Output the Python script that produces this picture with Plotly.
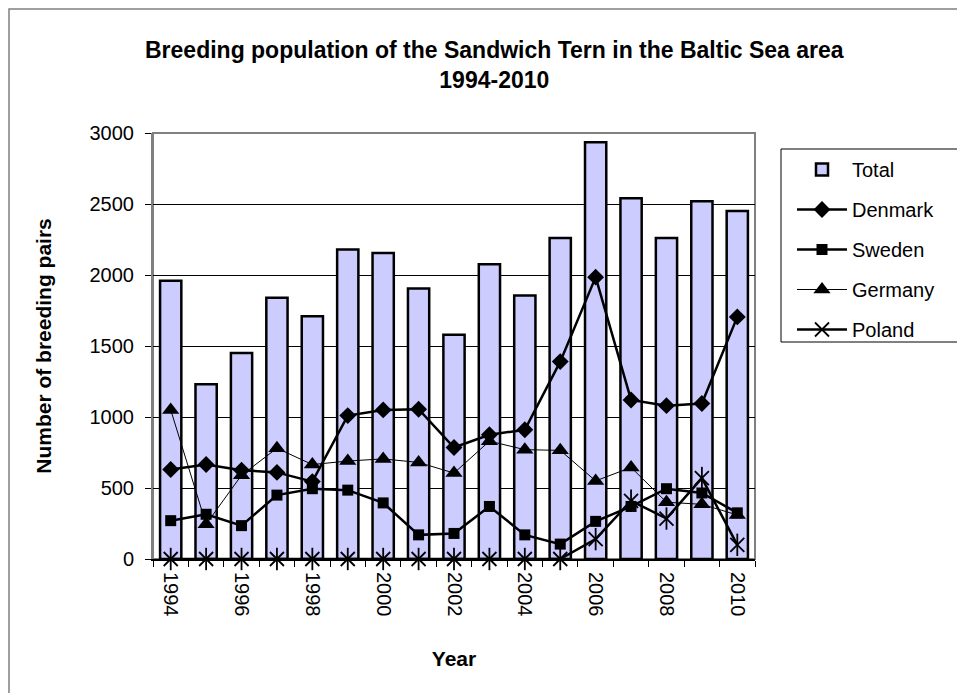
import plotly.graph_objects as go

years = [1994, 1995, 1996, 1997, 1998, 1999, 2000, 2001, 2002,
         2003, 2004, 2005, 2006, 2007, 2008, 2009, 2010]
total = [1960, 1230, 1450, 1840, 1710, 2180, 2155, 1905, 1580,
         2075, 1855, 2260, 2935, 2540, 2260, 2520, 2450]
denmark = [630, 665, 625, 610, 545, 1010, 1050, 1055, 785,
           875, 910, 1390, 1985, 1120, 1080, 1095, 1705]
sweden = [270, 315, 235, 450, 495, 485, 395, 170, 180,
          370, 170, 105, 265, 370, 495, 465, 325]
germany = [1050, 245, 590, 780, 665, 690, 705, 680, 605,
           830, 770, 765, 550, 645, 400, 385, 310]
poland = [0, 0, 0, 0, 0, 0, 0, 0, 0,
          0, 0, 0, 140, 410, 285, 570, 100]
tick_years = [1994, 1996, 1998, 2000, 2002, 2004, 2006, 2008, 2010]
y_ticks = [0, 500, 1000, 1500, 2000, 2500, 3000]

# page body has an 8px margin; work in screen pixels and shift
OFF = 8
W, H = 965 - OFF, 693 - OFF
PL, PR, PT, PB = 153, 755, 133, 559  # plot area in screen pixels
L, T = PL - OFF, PT - OFF
R, B = (965 - PR), (693 - PB)
PW, PH = PR - PL, PB - PT


def px_x(p):
    return (p - PL) / PW


def px_y(p):
    return (PB - p) / PH


FONT = "Liberation Sans, Arial, sans-serif"

fig = go.Figure()
fig.add_trace(go.Bar(
    x=years, y=total, name="Total", width=0.6,
    marker=dict(color="#CCCCFF", line=dict(color="black", width=2.5)),
    legendgroup="a"))
fig.add_trace(go.Scatter(
    x=years, y=denmark, name="Denmark", mode="lines+markers",
    line=dict(color="black", width=2.5),
    marker=dict(symbol="diamond", size=13, color="black"),
    legendgroup="b"))
fig.add_trace(go.Scatter(
    x=years, y=sweden, name="Sweden", mode="lines+markers",
    line=dict(color="black", width=2.5),
    marker=dict(symbol="square", size=11, color="black"),
    legendgroup="c"))
fig.add_trace(go.Scatter(
    x=years, y=germany, name="Germany", mode="lines+markers",
    line=dict(color="black", width=1),
    marker=dict(symbol="triangle-up", size=15, color="black"),
    legendgroup="d"))
fig.add_trace(go.Scatter(
    x=years, y=poland, name="Poland", mode="lines+markers",
    line=dict(color="black", width=2.5),
    marker=dict(symbol="x-thin-open", size=14, color="black",
                line=dict(color="black", width=1.8)),
    legendgroup="e", cliponaxis=False))
fig.add_trace(go.Scatter(
    x=years, y=poland, name="Poland", mode="markers", showlegend=False,
    marker=dict(symbol="line-ns-open", size=16, color="black",
                line=dict(color="black", width=1.8)),
    legendgroup="e", cliponaxis=False, hoverinfo="skip"))

shapes = [
    # outer chart border (cut off at right/bottom)
    dict(type="rect", xref="paper", yref="paper",
         x0=px_x(9), x1=px_x(1100), y0=px_y(9), y1=px_y(900),
         line=dict(color="#808080", width=1.5), layer="below"),
    # plot area border
    dict(type="rect", xref="paper", yref="paper",
         x0=0, x1=1, y0=0, y1=1,
         line=dict(color="#808080", width=2), layer="below"),
    # legend box
    dict(type="rect", xref="paper", yref="paper",
         x0=px_x(781), x1=px_x(1100), y0=px_y(149), y1=px_y(342),
         line=dict(color="black", width=1), layer="below"),
]

annotations = [
    dict(text="<b>Breeding population of the Sandwich Tern in the Baltic Sea area"
              "<br>1994-2010</b>",
         xref="paper", yref="paper", x=px_x(495), y=px_y(65),
         xanchor="center", yanchor="middle", showarrow=False, align="center",
         font=dict(family=FONT, size=23, color="black")),
]

fig.update_layout(
    width=W, height=H,
    margin=dict(l=L, r=R, t=T, b=B, pad=0),
    paper_bgcolor="white", plot_bgcolor="white",
    font=dict(family=FONT, size=20, color="black"),
    barmode="overlay",
    showlegend=True,
    legend=dict(x=px_x(792), y=px_y(150), xanchor="left", yanchor="top",
                bgcolor="rgba(0,0,0,0)", borderwidth=0,
                font=dict(family=FONT, size=20, color="black"),
                tracegroupgap=11, itemwidth=50, traceorder="grouped"),
    shapes=shapes,
    annotations=annotations,
    xaxis=dict(
        range=[1993.5, 2010.5], tickmode="array", tickvals=tick_years,
        ticktext=[str(v) for v in tick_years], tickangle=90,
        ticks="", showgrid=False, zeroline=False,
        showline=True, linecolor="black", linewidth=2,
        ticklabelstandoff=7,
        tickfont=dict(family=FONT, size=20, color="black"),
        minor=dict(tickmode="array",
                   tickvals=[y - 0.5 for y in years] + [years[-1] + 0.5],
                   ticks="outside", ticklen=6, tickcolor="black", tickwidth=1,
                   showgrid=False),
        title=dict(text="<b>Year</b>", standoff=36,
                   font=dict(family=FONT, size=21, color="black")),
    ),
    yaxis=dict(
        range=[0, 3000], tickmode="array", tickvals=y_ticks,
        ticks="outside", ticklen=6, tickcolor="black", tickwidth=1,
        showgrid=True, gridcolor="black", gridwidth=1, zeroline=False,
        showline=True, linecolor="#808080", linewidth=2,
        ticklabelstandoff=7,
        tickfont=dict(family=FONT, size=20, color="black"),
        title=dict(text="<b>Number of breeding pairs</b>", standoff=32,
                   font=dict(family=FONT, size=21, color="black")),
    ),
)

fig.write_html("out.html")
